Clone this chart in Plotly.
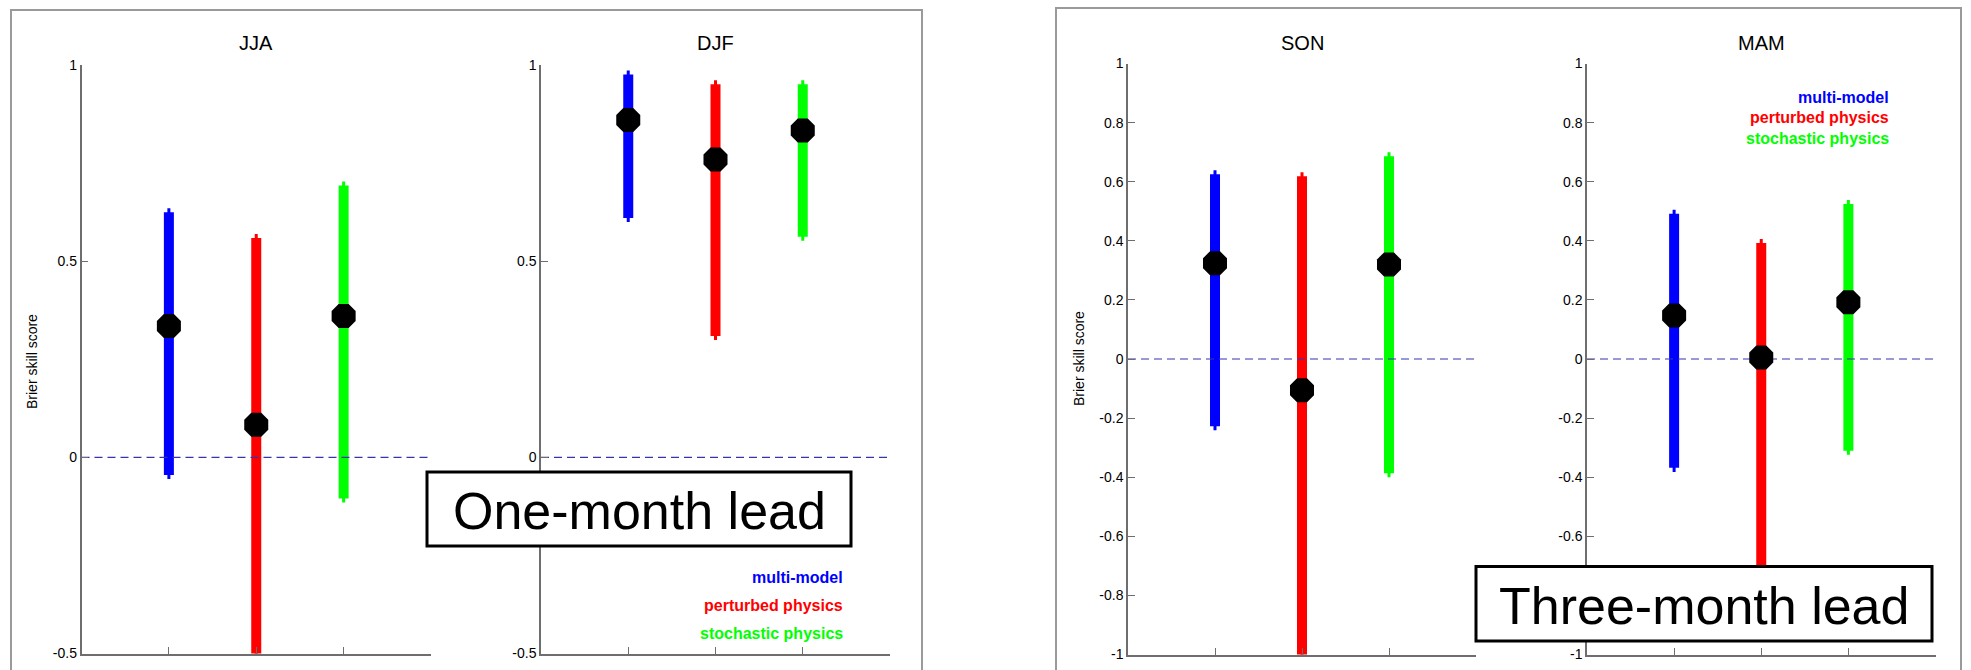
import plotly.graph_objects as go

W, H = 1971, 670

seasons = ["JJA", "DJF", "SON", "MAM"]
series_names = ["multi-model", "perturbed physics", "stochastic physics"]
series_colors = ["#0000ff", "#ff0000", "#00ff00"]
x_pos = [1, 2, 3]

# Brier skill score: central value, lower and upper bound of each range
jja_mid = [0.335, 0.083, 0.360]
jja_low = [-0.055, -0.60, -0.115]
jja_high = [0.635, 0.569, 0.703]

djf_mid = [0.860, 0.759, 0.833]
djf_low = [0.600, 0.299, 0.552]
djf_high = [0.986, 0.961, 0.961]

son_mid = [0.324, -0.106, 0.320]
son_low = [-0.241, -1.10, -0.400]
son_high = [0.639, 0.632, 0.700]

mam_mid = [0.147, 0.005, 0.192]
mam_low = [-0.382, -0.85, -0.324]
mam_high = [0.505, 0.406, 0.538]

left_ticks = [-0.5, 0, 0.5, 1]
left_ticktext = ["-0.5", "0", "0.5", "1"]
right_ticks = [-1, -0.8, -0.6, -0.4, -0.2, 0, 0.2, 0.4, 0.6, 0.8, 1]
right_ticktext = ["-1", "-0.8", "-0.6", "-0.4", "-0.2", "0", "0.2", "0.4", "0.6", "0.8", "1"]
# in the MAM panel the -0.8 label lies under the "Three-month lead" box
mam_ticktext = ["-1", "", "-0.6", "-0.4", "-0.2", "0", "0.2", "0.4", "0.6", "0.8", "1"]

y_label = "Brier skill score"
lead_labels = ["One-month lead", "Three-month lead"]

panels = [
    dict(name="JJA", mid=jja_mid, low=jja_low, high=jja_high, yr=[-0.5, 1], tv=left_ticks, tt=left_ticktext,
         xpx=(81.5, 431), ypx=(65, 653.5)),
    dict(name="DJF", mid=djf_mid, low=djf_low, high=djf_high, yr=[-0.5, 1], tv=left_ticks, tt=left_ticktext,
         xpx=(541, 890), ypx=(65, 653.5)),
    dict(name="SON", mid=son_mid, low=son_low, high=son_high, yr=[-1, 1], tv=right_ticks, tt=right_ticktext,
         xpx=(1128, 1476), ypx=(63.5, 654.5)),
    dict(name="MAM", mid=mam_mid, low=mam_low, high=mam_high, yr=[-1, 1], tv=right_ticks, tt=mam_ticktext,
         xpx=(1587, 1935.5), ypx=(63.5, 654.5)),
]

def px_x(x):
    return x / W

def px_y(y):
    return 1 - y / H

FONT = "Liberation Sans, Arial, Helvetica, sans-serif"
AX = "#6e6e6e"

fig = go.Figure()
layout = dict(autosize=True, margin=dict(l=0, r=0, t=0, b=0, pad=0, autoexpand=False),
              paper_bgcolor="white", plot_bgcolor="white", showlegend=False,
              font=dict(family=FONT, color="black", size=14))
annotations = []
shapes = []

for i, p in enumerate(panels):
    k = "" if i == 0 else str(i + 1)
    xa, ya = "x" + k, "y" + k
    span = p["yr"][1] - p["yr"][0]
    inset = 0.0068 * span
    for j in range(3):
        # thin tip over the full range
        fig.add_trace(go.Scatter(x=[x_pos[j], x_pos[j]], y=[p["low"][j], p["high"][j]], mode="lines",
                                 line=dict(color=series_colors[j], width=3), xaxis=xa, yaxis=ya,
                                 hoverinfo="skip"))
        # thick bar
        fig.add_trace(go.Scatter(x=[x_pos[j], x_pos[j]], y=[p["low"][j] + inset, p["high"][j] - inset],
                                 mode="lines", line=dict(color=series_colors[j], width=10),
                                 xaxis=xa, yaxis=ya, name=series_names[j]))
    # zero reference line
    fig.add_trace(go.Scatter(x=[0, 4], y=[0, 0], mode="lines",
                             line=dict(color="#3434b0", width=1.2, dash="8px,5px"),
                             xaxis=xa, yaxis=ya, hoverinfo="skip"))
    # central values
    fig.add_trace(go.Scatter(x=x_pos, y=p["mid"], mode="markers",
                             marker=dict(symbol="octagon", size=26, color="black",
                                         line=dict(width=0)),
                             xaxis=xa, yaxis=ya, cliponaxis=False))
    layout["xaxis" + k] = dict(domain=[px_x(p["xpx"][0]), px_x(p["xpx"][1])], range=[0, 4],
                               anchor=ya, showgrid=False, zeroline=False, showline=True,
                               linecolor=AX, linewidth=1.5, ticks="inside", ticklen=7,
                               tickcolor=AX, tickwidth=1.2, tickvals=[1, 2, 3, 4],
                               showticklabels=False, fixedrange=True, automargin=False)
    layout["yaxis" + k] = dict(domain=[px_y(p["ypx"][1]), px_y(p["ypx"][0])], range=p["yr"],
                               anchor=xa, showgrid=False, zeroline=False, showline=True,
                               linecolor=AX, linewidth=1.5, ticks="inside", ticklen=7,
                               tickcolor=AX, tickwidth=1.2, tickvals=p["tv"], ticktext=p["tt"],
                               tickfont=dict(size=14, color="black", family=FONT), fixedrange=True,
                               automargin=False)
    annotations.append(dict(text=p["name"], xref="paper", yref="paper",
                            x=px_x((p["xpx"][0] + p["xpx"][1]) / 2), y=px_y(43),
                            xanchor="center", yanchor="middle", showarrow=False,
                            font=dict(size=20, color="black", family=FONT)))

# y axis titles
for xp, yp in [(32, 362), (1079, 359)]:
    annotations.append(dict(text=y_label, xref="paper", yref="paper", x=px_x(xp), y=px_y(yp),
                            textangle=-90, xanchor="center", yanchor="middle", showarrow=False,
                            font=dict(size=14, color="black", family=FONT)))

# legends (coloured text)
for right_x, ys in [(845, [577, 605, 633]), (1891, [97, 118, 139])]:
    for j in range(3):
        annotations.append(dict(text="<b>" + series_names[j] + "</b>", xref="paper", yref="paper",
                                x=px_x(right_x), y=px_y(ys[j]), xanchor="right", yanchor="middle",
                                showarrow=False,
                                font=dict(size=16, color=series_colors[j], family=FONT)))

# outer frames
shapes.append(dict(type="rect", xref="paper", yref="paper", x0=px_x(11), x1=px_x(922),
                   y0=px_y(700), y1=px_y(10), line=dict(color="#9a9a9a", width=2),
                   fillcolor="rgba(0,0,0,0)", layer="below"))
shapes.append(dict(type="rect", xref="paper", yref="paper", x0=px_x(1056), x1=px_x(1961),
                   y0=px_y(700), y1=px_y(8), line=dict(color="#9a9a9a", width=2),
                   fillcolor="rgba(0,0,0,0)", layer="below"))

# lead boxes
for label, (x0, x1, y0, y1) in zip(lead_labels, [(427, 851, 472, 546), (1476, 1932, 566.5, 641)]):
    shapes.append(dict(type="rect", xref="paper", yref="paper", x0=px_x(x0), x1=px_x(x1),
                       y0=px_y(y1), y1=px_y(y0), line=dict(color="black", width=3),
                       fillcolor="white", layer="above"))
    annotations.append(dict(text=label, xref="paper", yref="paper", x=px_x((x0 + x1) / 2),
                            y=px_y((y0 + y1) / 2 + 2), xanchor="center", yanchor="middle",
                            showarrow=False, font=dict(size=52, color="black", family=FONT)))

layout["annotations"] = annotations
layout["shapes"] = shapes
fig.update_layout(**layout)
# the plot div is pinned to the top-left corner of the page so that the
# default body margin does not shift the figure
fig.write_html("out.html",
               default_width="%dpx; position:absolute; top:0; left:0" % W,
               default_height="%dpx" % H,
               config={"displayModeBar": False, "responsive": False},
               post_script="document.body.style.margin='0';"
                           "document.documentElement.style.overflow='hidden';")
